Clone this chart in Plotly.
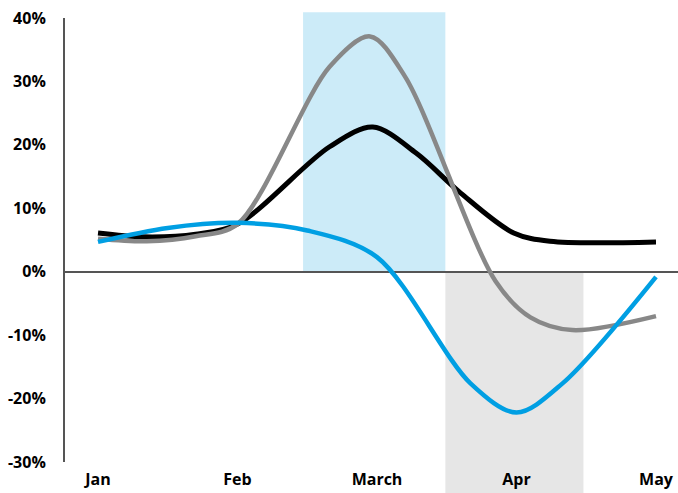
import plotly.graph_objects as go

month_labels = ["Jan", "Feb", "March", "Apr", "May"]
month_pos = [0, 1, 2, 3, 4]

black_x = [0, 0.32, 0.7, 1.0, 1.66, 1.97, 2.28, 2.6, 2.98, 3.24, 4.0]
black_y = [6.1, 5.5, 5.9, 7.5, 19.7, 22.8, 18.7, 12.4, 6.1, 4.8, 4.7]

gray_x = [0, 0.35, 0.7, 1.0, 1.66, 1.95, 2.2, 2.85, 3.1, 3.4, 4.0]
gray_y = [5.2, 4.8, 5.6, 7.5, 32.3, 37.1, 30.8, -1.5, -7.2, -9.2, -7.0]

blue_x = [0, 0.5, 1.0, 1.5, 2.0, 2.67, 3.0, 3.33, 4.0]
blue_y = [4.7, 6.9, 7.7, 6.5, 2.3, -17.6, -22.2, -17.6, -0.8]

y_ticks = [-30, -20, -10, 0, 10, 20, 30, 40]
y_ticktext = [f"{v}%" for v in y_ticks]

highlight_blue = (1.47, 2.49)
highlight_gray = (2.49, 3.48)

y_min, y_max = -30, 40

def to_paper(v):
    return (v - y_min) / (y_max - y_min)

fig = go.Figure()
fig.add_trace(go.Scatter(x=black_x, y=black_y, mode="lines", hoverinfo="skip",
                         line=dict(color="#000000", width=5, shape="spline", smoothing=0.9)))
fig.add_trace(go.Scatter(x=gray_x, y=gray_y, mode="lines", hoverinfo="skip",
                         line=dict(color="#888888", width=4.5, shape="spline", smoothing=0.9)))
fig.add_trace(go.Scatter(x=blue_x, y=blue_y, mode="lines", hoverinfo="skip",
                         line=dict(color="#009FE3", width=4.5, shape="spline", smoothing=0.9)))

fig.add_shape(type="rect", xref="x", yref="paper",
              x0=highlight_blue[0], x1=highlight_blue[1],
              y0=to_paper(0), y1=to_paper(40.9),
              fillcolor="#CCEBF8", line=dict(width=0), layer="below")
fig.add_shape(type="rect", xref="x", yref="paper",
              x0=highlight_gray[0], x1=highlight_gray[1],
              y0=to_paper(-35), y1=to_paper(0),
              fillcolor="#E6E6E6", line=dict(width=0), layer="below")

fig.update_layout(
    width=678, height=493,
    margin=dict(l=65, r=0, t=18, b=31, autoexpand=False),
    paper_bgcolor="white", plot_bgcolor="rgba(0,0,0,0)",
    showlegend=False,
    font=dict(family="Open Sans", size=16, color="#000000"),
)
fig.update_xaxes(range=[-0.2366, 4.1577], tickvals=month_pos, ticktext=month_labels,
                 showgrid=False, zeroline=False, showline=False, ticks="",
                 automargin=False,
                 tickfont=dict(family="Open Sans", size=16, color="#000000", weight="bold"),
                 ticklabelstandoff=6)
fig.update_yaxes(range=[y_min, y_max], tickvals=y_ticks, ticktext=y_ticktext,
                 showgrid=False, zeroline=True, zerolinecolor="#555555", zerolinewidth=2,
                 showline=True, linecolor="#555555", linewidth=2, ticks="",
                 automargin=False,
                 tickfont=dict(family="Open Sans", size=16, color="#000000", weight="bold"),
                 ticklabelstandoff=14)

fig.write_html("out.html", config={"displayModeBar": False},
               post_script="document.body.style.margin='0';document.body.style.overflow='hidden';")
